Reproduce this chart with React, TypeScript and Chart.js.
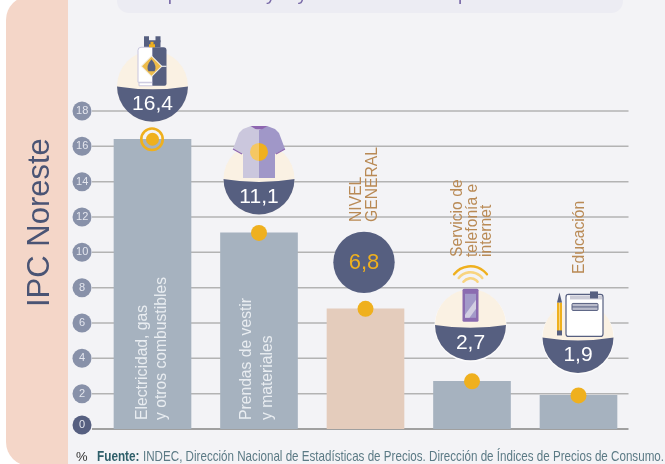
import React, { useEffect, useRef } from "react";
import { Chart, registerables } from "chart.js";

Chart.register(...registerables);

const categories = ["Electricidad, gas y otros combustibles", "Prendas de vestir y materiales", "NIVEL GENERAL", "Servicio de telefonía e internet", "Educación"];
const values = [16.4, 11.1, 6.8, 2.7, 1.9];
const barColors = ["#A6B2BF", "#A6B2BF", "#E4CCBC", "#A6B2BF", "#A6B2BF"];
const categoryLines = [
  ["Electricidad, gas", "y otros combustibles"],
  ["Prendas de vestir", "y materiales"],
  ["NIVEL", "GENERAL"],
  ["Servicio de", "telefonía e", "internet"],
  ["Educación"],
];
const yTicks = [0, 2, 4, 6, 8, 10, 12, 14, 16, 18];

const SANS = '"Liberation Sans", Arial, sans-serif';
const DARK = "#565F80";
const CREAM = "#FAF1E3";
const AMBER = "#EFB01E";

function rr(c: CanvasRenderingContext2D, x: number, y: number, w: number, h: number, r: any) {
  c.beginPath();
  c.roundRect(x, y, w, h, r);
}

function disc(c: CanvasRenderingContext2D, x: number, y: number, r: number, fill: string) {
  c.fillStyle = fill;
  c.beginPath();
  c.arc(x, y, r, 0, Math.PI * 2);
  c.fill();
}

function rotatedText(c: CanvasRenderingContext2D, t: string, x: number, y: number, font: string, color: string) {
  c.save();
  c.translate(x, y);
  c.rotate(-Math.PI / 2);
  c.font = font;
  c.fillStyle = color;
  c.textAlign = "left";
  c.textBaseline = "alphabetic";
  c.fillText(t, 0, 0);
  c.restore();
}

function badge(c: CanvasRenderingContext2D, cx: number, cy: number, label: string, textY: number, halo: boolean) {
  const r = 35.5;
  if (halo) disc(c, cx, cy + 1, r + 0.6, "#FBFBFC");
  disc(c, cx, cy, r, CREAM);
  c.save();
  c.beginPath();
  c.arc(cx, cy, r, 0, Math.PI * 2);
  c.clip();
  c.fillStyle = DARK;
  c.beginPath();
  c.moveTo(cx - r - 1, cy);
  c.quadraticCurveTo(cx, cy + 6, cx + r + 1, cy);
  c.lineTo(cx + r + 1, cy + r + 1);
  c.lineTo(cx - r - 1, cy + r + 1);
  c.closePath();
  c.fill();
  c.restore();
  c.font = `21px ${SANS}`;
  c.fillStyle = "#FFFFFF";
  c.textAlign = "center";
  c.textBaseline = "middle";
  c.fillText(label, cx, textY);
}

function drawCylinder(c: CanvasRenderingContext2D, cx: number, cy: number) {
  const x = (d: number) => cx + d;
  const y = (d: number) => cy + d;
  // valve guard
  c.fillStyle = DARK;
  c.fillRect(x(-8.5), y(-52), 5, 6);
  c.fillRect(x(3), y(-52), 5, 6);
  c.fillRect(x(-8.5), y(-48), 16.5, 7);
  // white half
  c.fillStyle = "#FFFFFF";
  c.strokeStyle = "#C9C6DE";
  c.lineWidth = 1;
  rr(c, x(-14.5), y(-41), 14.5, 35, [3, 0, 0, 0]);
  c.fill();
  c.stroke();
  rr(c, x(-13.5), y(-5.5), 13.5, 3, 0);
  c.fill();
  c.stroke();
  // dark half
  c.fillStyle = DARK;
  rr(c, x(0), y(-41), 14, 38.5, [0, 3, 2, 0]);
  c.fill();
  c.fillStyle = "#FFFFFF";
  c.fillRect(x(8), y(-22.5), 6, 1);
  // nozzle
  c.fillStyle = AMBER;
  c.fillRect(x(-3.5), y(-44), 6, 3);
  c.fillRect(x(-2), y(-46.5), 3, 3);
  // diamond
  const dx = -1;
  const dy = -22;
  const diamond = (h: number, col: string) => {
    c.fillStyle = col;
    c.beginPath();
    c.moveTo(x(dx), y(dy - h));
    c.lineTo(x(dx + h), y(dy));
    c.lineTo(x(dx), y(dy + h));
    c.lineTo(x(dx - h), y(dy));
    c.closePath();
    c.fill();
  };
  diamond(11, "#F3EFE3");
  diamond(9.5, "#EDBB4A");
  c.fillStyle = DARK;
  c.beginPath();
  c.moveTo(x(dx), y(dy - 7));
  c.quadraticCurveTo(x(dx + 6), y(dy), x(dx + 3), y(dy + 5));
  c.lineTo(x(dx - 3), y(dy + 5));
  c.quadraticCurveTo(x(dx - 6), y(dy), x(dx), y(dy - 7));
  c.fill();
}

function drawShirt(c: CanvasRenderingContext2D, cx: number, cy: number) {
  const x = (d: number) => cx + d;
  const y = (d: number) => cy + d;
  const half = (sign: number, color: string) => {
    c.fillStyle = color;
    c.beginPath();
    c.moveTo(x(0), y(-49));
    c.lineTo(x(sign * 8), y(-53));
    c.lineTo(x(sign * 16), y(-50));
    c.lineTo(x(sign * 20), y(-46));
    c.lineTo(x(sign * 26), y(-30));
    c.lineTo(x(sign * 16), y(-25));
    c.lineTo(x(sign * 16), y(-1));
    c.lineTo(x(0), y(-1));
    c.closePath();
    c.fill();
  };
  half(-1, "#CBC7DD");
  half(1, "#A097C8");
  c.strokeStyle = "#8E66B0";
  c.lineWidth = 1.2;
  c.beginPath();
  c.moveTo(x(-26), y(-30));
  c.lineTo(x(-17), y(-25));
  c.moveTo(x(26), y(-30));
  c.lineTo(x(17), y(-25));
  c.stroke();
  c.fillStyle = "#8E66B0";
  c.beginPath();
  c.moveTo(x(-8.5), y(-53));
  c.lineTo(x(8.5), y(-53));
  c.quadraticCurveTo(x(0), y(-46), x(-8.5), y(-53));
  c.fill();
  c.save();
  c.beginPath();
  c.rect(x(-10), y(-37), 10, 20);
  c.clip();
  disc(c, x(0), y(-27), 9, "#F5C763");
  c.restore();
  c.save();
  c.beginPath();
  c.rect(x(0), y(-37), 10, 20);
  c.clip();
  disc(c, x(0), y(-27), 9, AMBER);
  c.restore();
}

function drawPhone(c: CanvasRenderingContext2D, cx: number, cy: number) {
  const x = (d: number) => cx + d;
  const y = (d: number) => cy + d;
  c.lineCap = "round";
  const arc = (r: number, w: number, col: string) => {
    c.strokeStyle = col;
    c.lineWidth = w;
    c.beginPath();
    c.arc(x(0), y(-37.5), r, -Math.PI / 2 - 0.9, -Math.PI / 2 + 0.9);
    c.stroke();
  };
  arc(21, 2.4, AMBER);
  arc(15, 2.6, "#F8D47F");
  arc(9, 2.6, "#F8D47F");
  c.lineCap = "butt";
  c.fillStyle = "#8B6BB0";
  rr(c, x(-8), y(-36), 16, 33, 1.5);
  c.fill();
  c.fillStyle = "#A39AC9";
  c.fillRect(x(-5.5), y(-31), 11, 24);
  c.fillStyle = "#D2CEE2";
  c.beginPath();
  c.moveTo(x(-5.5), y(-10));
  c.lineTo(x(5.5), y(-25));
  c.lineTo(x(5.5), y(-16));
  c.lineTo(x(-1), y(-7));
  c.lineTo(x(-5.5), y(-7));
  c.closePath();
  c.fill();
}

function drawBook(c: CanvasRenderingContext2D, cx: number, cy: number) {
  const x = (d: number) => cx + d;
  const y = (d: number) => cy + d;
  c.fillStyle = AMBER;
  c.fillRect(x(-21), y(-35), 5, 30);
  c.fillStyle = "#F8D47F";
  c.fillRect(x(-19), y(-35), 1, 30);
  c.fillStyle = DARK;
  c.beginPath();
  c.moveTo(x(-21), y(-35));
  c.lineTo(x(-18.5), y(-45));
  c.lineTo(x(-16), y(-35));
  c.closePath();
  c.fill();
  c.fillRect(x(-21), y(-7), 5, 5);
  c.fillStyle = "#FFFFFF";
  c.strokeStyle = DARK;
  c.lineWidth = 1.2;
  rr(c, x(-12), y(-43), 37, 42, 2.5);
  c.fill();
  c.stroke();
  c.fillStyle = "#CBCBD6";
  c.fillRect(x(-11), y(-42), 35, 4);
  c.fillStyle = "#FFFFFF";
  c.fillRect(x(-11), y(-42), 3, 6);
  c.fillStyle = DARK;
  c.fillRect(x(12), y(-46), 8, 7);
  c.fillStyle = "#B9BBCB";
  c.strokeStyle = DARK;
  c.lineWidth = 1;
  rr(c, x(-6), y(-34), 26, 7, 1);
  c.fill();
  c.stroke();
  c.beginPath();
  c.moveTo(x(-6), y(-30.5));
  c.lineTo(x(20), y(-30.5));
  c.stroke();
}

const decor = {
  id: "decor",
  beforeDraw(chart: Chart) {
    const c = chart.ctx;
    const ys = chart.scales.y;
    c.save();
    c.fillStyle = "#FFFFFF";
    c.fillRect(0, 0, 665, 464);
    c.fillStyle = "#F3F3F6";
    c.fillRect(68, 0, 597, 464);
    c.fillStyle = "#F4D6C8";
    rr(c, 6, -4, 62, 470, [24, 0, 0, 24]);
    c.fill();
    rr(c, 117, -20, 506, 33, 12);
    c.fillStyle = "#ECECF3";
    c.fill();
    c.font = `19px ${SANS}`;
    c.fillStyle = "#7A6BA8";
    c.textAlign = "left";
    c.textBaseline = "alphabetic";
    c.fillText("Grupos con mayor y menor alza en septiembre", 136, -0.5);
    rotatedText(c, "IPC Noreste", 49, 307, `31px ${SANS}`, "#4A5474");
    yTicks.forEach((t) => {
      const py = ys.getPixelForValue(t);
      c.strokeStyle = t === 0 ? "#A0A0A0" : "#B3B3B3";
      c.lineWidth = t === 0 ? 2 : 1.5;
      c.beginPath();
      c.moveTo(92, py);
      c.lineTo(628.5, py);
      c.stroke();
      if (t === 0) {
        disc(c, 82, py - 4, 9.5, DARK);
        c.font = `11px ${SANS}`;
        c.fillStyle = "#E4E6EE";
        c.textAlign = "center";
        c.textBaseline = "middle";
        c.fillText(String(t), 82, py - 4);
      } else {
        disc(c, 82, py, 9.5, "#8891A9");
      }
    });
    c.font = `13px ${SANS}`;
    c.fillStyle = "#333333";
    c.textAlign = "left";
    c.textBaseline = "alphabetic";
    c.fillText("%", 76, 461);
    c.font = `bold 14.5px ${SANS}`;
    c.fillStyle = "#2F5F6A";
    c.fillText("Fuente:", 97, 461, 42.5);
    c.font = `14.5px ${SANS}`;
    c.fillStyle = "#5B7A85";
    c.fillText("INDEC, Dirección Nacional de Estadísticas de Precios. Dirección de Índices de Precios de Consumo.", 143, 461, 521);
    c.restore();
  },
  afterDatasetsDraw(chart: Chart) {
    const c = chart.ctx;
    const xs = chart.scales.x;
    const ys = chart.scales.y;
    const fmt = (v: number) => String(v).replace(".", ",");
    const cx = (i: number) => xs.getPixelForValue(i);
    c.save();

    const pt = chart.getDatasetMeta(1).data[0];
    c.strokeStyle = AMBER;
    c.lineWidth = 2.6;
    c.beginPath();
    c.arc(pt.x - 0.5, pt.y, 10.7, 0, Math.PI * 2);
    c.stroke();

    const b0y = ys.getPixelForValue(values[0]) - 53;
    badge(c, cx(0), b0y, fmt(values[0]), b0y + 18, false);
    drawCylinder(c, cx(0), b0y + 2);

    const b1y = ys.getPixelForValue(values[1]) - 54;
    badge(c, cx(1), b1y, fmt(values[1]), b1y + 18, false);
    drawShirt(c, cx(1), b1y);

    const b2y = ys.getPixelForValue(values[2]) - 46.5;
    disc(c, cx(2) - 1.5, b2y, 30.7, DARK);
    c.font = `22px ${SANS}`;
    c.fillStyle = AMBER;
    c.textAlign = "center";
    c.textBaseline = "middle";
    c.fillText(fmt(values[2]), cx(2) - 1.5, b2y + 1);

    const b3y = ys.getPixelForValue(values[3]) - 56.5;
    badge(c, cx(3) - 1.5, b3y, fmt(values[3]), b3y + 18, true);
    drawPhone(c, cx(3) - 1.5, b3y);

    const b4y = ys.getPixelForValue(values[4]) - 58;
    badge(c, cx(4) - 0.5, b4y, fmt(values[4]), b4y + 18, true);
    drawBook(c, cx(4) - 0.5, b4y);

    const white = "#E9EDF1";
    const brown = "#B98A55";
    const f = `15.7px ${SANS}`;
    categoryLines[0].forEach((t, k) => rotatedText(c, t, cx(0) - 6 + k * 19.5, 420, f, white));
    categoryLines[1].forEach((t, k) => rotatedText(c, t, cx(1) - 8 + k * 21, 420, f, white));
    categoryLines[2].forEach((t, k) => rotatedText(c, t, cx(2) - 4.5 + k * 16, 222, f, brown));
    categoryLines[3].forEach((t, k) => rotatedText(c, t, cx(3) - 10 + k * 14.5, 257, f, brown));
    categoryLines[4].forEach((t) => rotatedText(c, t, cx(4) + 5.5, 274, f, brown));
    c.restore();
  },
};

export default function App() {
  const ref = useRef<HTMLCanvasElement>(null);
  useEffect(() => {
    if (!ref.current) return;
    const chart = new Chart(ref.current, {
      type: "bar",
      data: {
        labels: categories,
        datasets: [
          { type: "bar", label: "IPC Noreste", data: values, backgroundColor: barColors, barThickness: 77, order: 2 },
          {
            type: "line",
            label: "marcador",
            data: values,
            showLine: false,
            pointRadius: [6.5, 8, 8, 8, 8],
            pointHoverRadius: 8,
            pointBackgroundColor: AMBER,
            pointBorderWidth: 0,
            clip: false,
            order: 1,
          },
        ],
      },
      options: {
        responsive: false,
        animation: false,
        layout: { padding: { left: 69.25, right: 33.25, top: 111, bottom: 35 } },
        plugins: { legend: { display: false }, tooltip: { enabled: false } },
        scales: {
          x: { display: false, offset: true, grid: { display: false } },
          y: {
            min: 0,
            max: 18,
            afterFit: (s: any) => {
              s.width = 30;
            },
            border: { display: false },
            grid: { display: false, drawTicks: false },
            ticks: {
              stepSize: 2,
              padding: 11,
              crossAlign: "center",
              color: "#E4E6EE",
              font: { family: SANS, size: 11 },
              callback: (v: any) => (v === 0 ? "" : String(v)),
            },
          },
        },
      },
      plugins: [decor],
    } as any);
    return () => chart.destroy();
  }, []);
  return (
    <div style={{ position: "fixed", left: 0, top: 0, width: 665, height: 464 }}>
      <canvas ref={ref} width={665} height={464} style={{ display: "block" }} />
    </div>
  );
}
